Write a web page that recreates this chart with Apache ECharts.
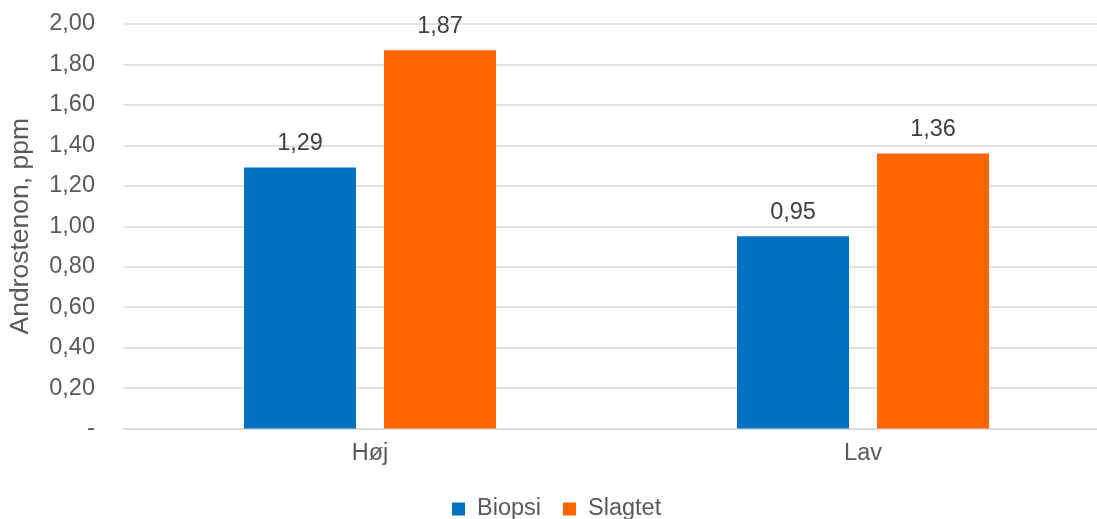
<!DOCTYPE html>
<html><head><meta charset="utf-8">
<script src="https://cdn.jsdelivr.net/npm/echarts@6/dist/echarts.min.js"></script>
<style>html,body{margin:0;padding:0;background:#fff}#c{width:1097px;height:519px}</style>
</head><body><div id="c"></div>
<script>
const categories = ['Høj', 'Lav'];
const biopsi = [1.29, 0.95];
const slagtet = [1.87, 1.36];
const seriesNames = ['Biopsi', 'Slagtet'];
const yAxisName = 'Androstenon, ppm';

const fmt = v => v === 0 ? '-' : v.toFixed(2).replace('.', ',');
const chart = echarts.init(document.getElementById('c'));
const font = 'Liberation Sans, Arial, sans-serif';
const lbl = {show: true, position: 'top', distance: 12, color: '#404040', fontSize: 23.5, fontFamily: font, formatter: p => fmt(p.value)};
chart.setOption({
  animation: false,
  grid: {left: 123.5, right: -12.5, top: 24, bottom: 90.5, containLabel: false, outerBoundsMode: 'none'},
  legend: {top: 492, left: 447, itemWidth: 13, itemHeight: 13, itemGap: 22, icon: 'rect',
    textStyle: {fontSize: 23.5, color: '#595959', fontFamily: font, padding: [0, 0, 0, 7]}, data: seriesNames},
  xAxis: {type: 'category', data: categories,
    axisLine: {lineStyle: {color: '#d9d9d9', width: 1.5}}, axisTick: {show: false},
    axisLabel: {fontSize: 23.5, color: '#595959', fontFamily: font, margin: 13}},
  yAxis: {type: 'value', min: 0, max: 2, interval: 0.2,
    name: yAxisName, nameLocation: 'middle', nameGap: 89, nameRotate: 90,
    nameTextStyle: {fontSize: 26.5, color: '#595959', fontFamily: font},
    axisLine: {show: false}, axisTick: {show: false},
    splitLine: {lineStyle: {color: '#d9d9d9', width: 1.5}},
    axisLabel: {fontSize: 23.5, color: '#595959', fontFamily: font, margin: 28.5, formatter: fmt}},
  series: [
    {name: seriesNames[0], type: 'bar', data: biopsi, barWidth: 112, barGap: '25%', itemStyle: {color: '#0070C0'}, label: lbl},
    {name: seriesNames[1], type: 'bar', data: slagtet, barWidth: 112, barGap: '25%', itemStyle: {color: '#FF6600'}, label: lbl}
  ]
});
</script></body></html>
